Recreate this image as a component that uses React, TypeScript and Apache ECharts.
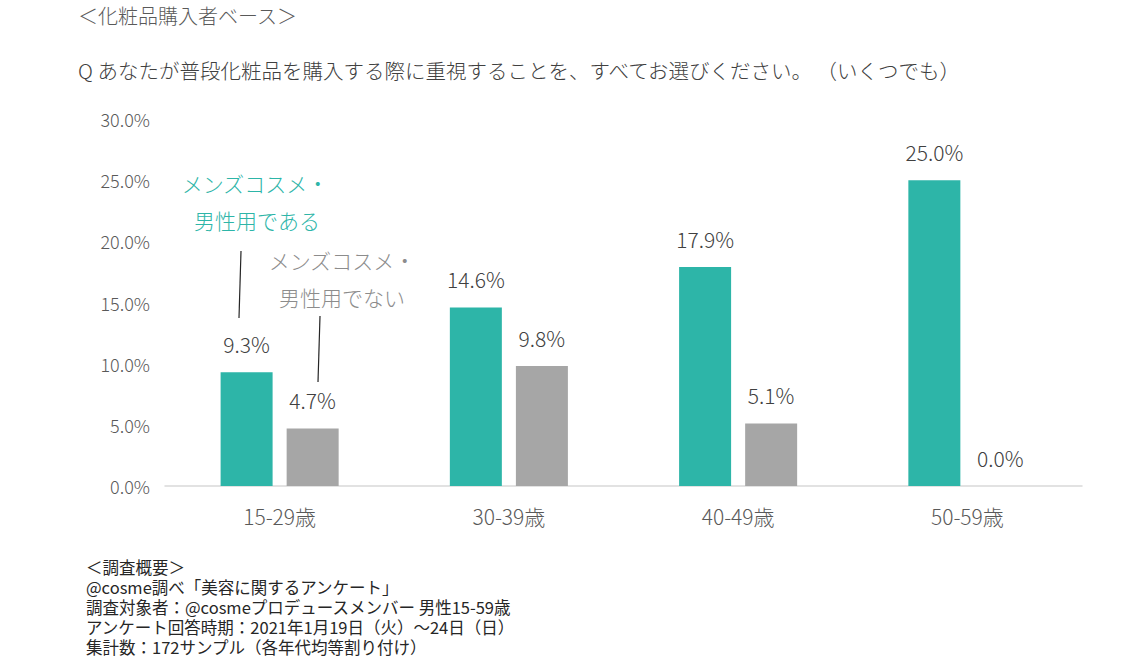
import React, { useEffect, useRef } from "react";
import * as echarts from "echarts";

const categories = ["15-29歳", "30-39歳", "40-49歳", "50-59歳"];
const mensCosme = [9.3, 14.6, 17.9, 25.0];
const notMensCosme = [4.7, 9.8, 5.1, 0.0];
const seriesNames = ["メンズコスメ・男性用である", "メンズコスメ・男性用でない"];
const footerLines = [
  "＜調査概要＞",
  "@cosme調べ「美容に関するアンケート」",
  "調査対象者：@cosmeプロデュースメンバー 男性15-59歳",
  "アンケート回答時期：2021年1月19日（火）～24日（日）",
  "集計数：172サンプル（各年代均等割り付け）",
];

const FONT = "'Noto Sans CJK JP', 'Noto Sans', sans-serif";
const GREEN = "#2DB5A8";
const GRAY = "#A6A6A6";
const W = 300;

export default function App() {
  const ref = useRef<HTMLDivElement>(null);
  useEffect(() => {
    document.body.style.margin = "0";
    const chart = echarts.init(ref.current!, null, { renderer: "svg" });
    const labelFmt = (p: any) => p.value.toFixed(1) + "%";
    const valLabel = {
      show: true,
      position: "top",
      distance: 18,
      formatter: labelFmt,
      color: "#404040",
      fontSize: 21,
      fontWeight: W,
      fontFamily: FONT,
    };
    chart.setOption({
      animation: false,
      backgroundColor: "#ffffff",
      textStyle: { fontFamily: FONT },
      grid: { left: 165, right: 46, top: 119, bottom: 184, containLabel: false },
      xAxis: {
        type: "category",
        data: categories,
        axisLine: { show: true, lineStyle: { color: "#D9D9D9", width: 1.5 } },
        axisTick: { show: false },
        axisLabel: { color: "#595959", fontSize: 21, fontWeight: W, margin: 19, fontFamily: FONT },
      },
      yAxis: {
        type: "value",
        min: 0,
        max: 30,
        interval: 5,
        axisLine: { show: false },
        axisTick: { show: false },
        splitLine: { show: false },
        axisLabel: {
          color: "#595959",
          fontSize: 18,
          fontWeight: W,
          margin: 15,
          fontFamily: FONT,
          formatter: (v: number) => v.toFixed(1) + "%",
        },
      },
      series: [
        {
          name: seriesNames[0],
          type: "bar",
          data: mensCosme,
          barWidth: 52,
          barGap: "27%",
          itemStyle: { color: GREEN },
          label: valLabel,
        },
        {
          name: seriesNames[1],
          type: "bar",
          data: notMensCosme,
          barWidth: 52,
          itemStyle: { color: GRAY },
          label: valLabel,
        },
      ],
      graphic: [
        {
          type: "text",
          left: 78,
          top: 5,
          style: { text: "＜化粧品購入者ベース＞", fill: "#595959", fontSize: 20, fontWeight: W, fontFamily: FONT },
        },
        {
          type: "text",
          left: 78,
          top: 60,
          style: {
            text: "Q あなたが普段化粧品を購入する際に重視することを、すべてお選びください。 （いくつでも）",
            fill: "#404040",
            fontSize: 20.5,
            fontWeight: W,
            fontFamily: FONT,
          },
        },
        {
          type: "text",
          x: 255,
          y: 183,
          style: { text: "メンズコスメ・", fill: GREEN, fontSize: 21, fontWeight: W, fontFamily: FONT, align: "center", verticalAlign: "middle" },
        },
        {
          type: "text",
          x: 257,
          y: 220,
          style: { text: "男性用である", fill: GREEN, fontSize: 21, fontWeight: W, fontFamily: FONT, align: "center", verticalAlign: "middle" },
        },
        {
          type: "text",
          x: 342,
          y: 260,
          style: { text: "メンズコスメ・", fill: "#8C8C8C", fontSize: 21, fontWeight: W, fontFamily: FONT, align: "center", verticalAlign: "middle" },
        },
        {
          type: "text",
          x: 342,
          y: 297,
          style: { text: "男性用でない", fill: "#8C8C8C", fontSize: 21, fontWeight: W, fontFamily: FONT, align: "center", verticalAlign: "middle" },
        },
        {
          type: "line",
          shape: { x1: 241, y1: 251, x2: 239, y2: 318 },
          style: { stroke: "#262626", lineWidth: 1.2 },
        },
        {
          type: "line",
          shape: { x1: 320, y1: 316, x2: 318, y2: 382 },
          style: { stroke: "#262626", lineWidth: 1.2 },
        },
        {
          type: "text",
          left: 86,
          top: 557,
          style: { text: footerLines.join("\n"), fill: "#262626", fontSize: 16.5, lineHeight: 20, fontFamily: FONT },
        },
      ],
    });
    return () => chart.dispose();
  }, []);
  return <div ref={ref} style={{ width: 1128, height: 670 }} />;
}
